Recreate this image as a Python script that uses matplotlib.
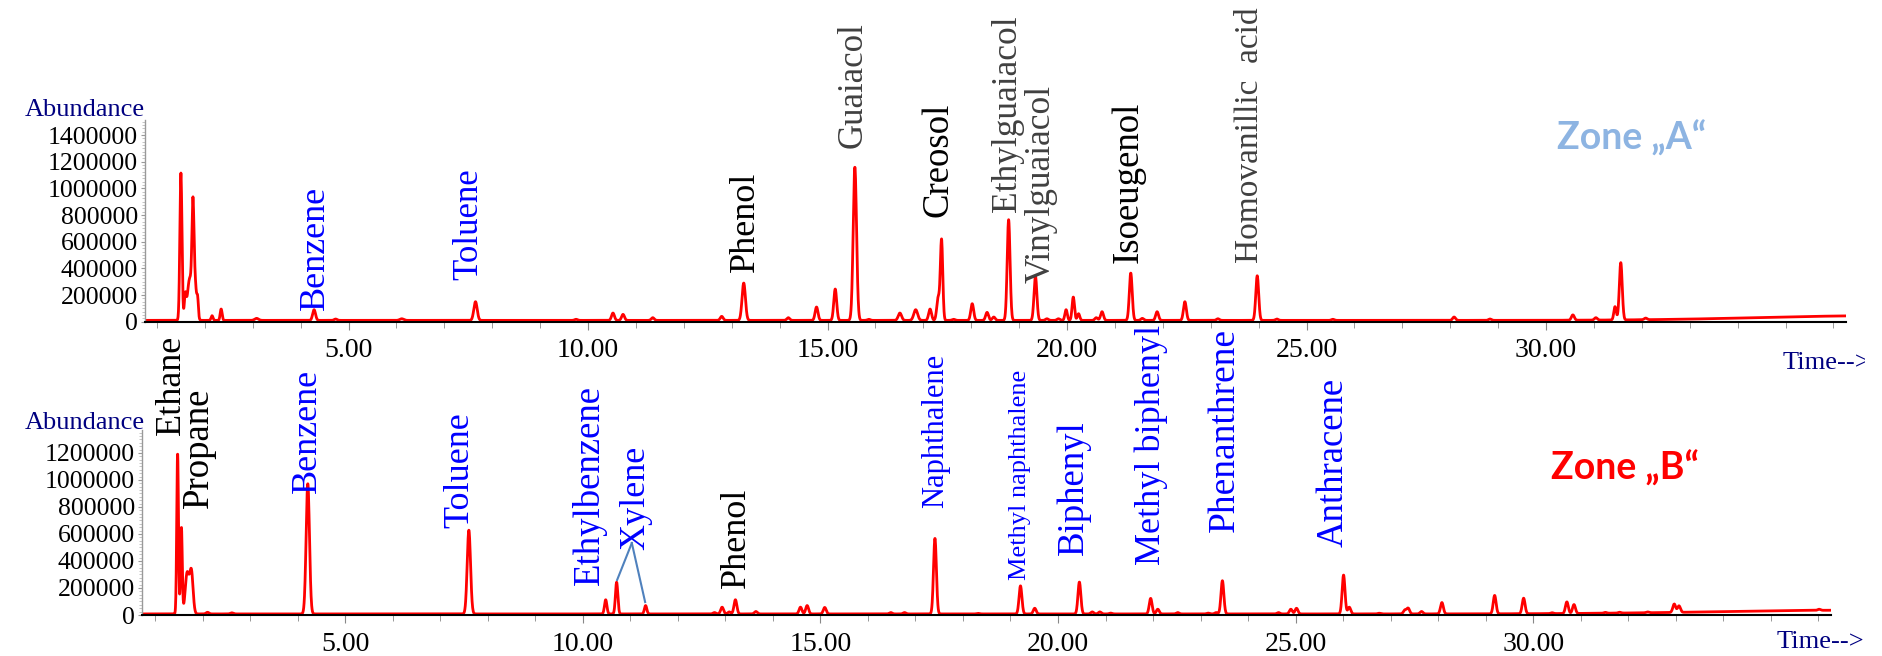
import numpy as np
import matplotlib
matplotlib.use("Agg")
import matplotlib.pyplot as plt
from matplotlib.ticker import MultipleLocator, FixedLocator, FormatStrFormatter
from matplotlib.transforms import Bbox, TransformedBbox

plt.rcParams['font.family'] = ['Liberation Serif', 'DejaVu Serif']

# ---- Zone A peak table (retention time [min], height, width sigma [min]) ----
a_rt = [1.50, 1.59, 1.68, 1.78, 1.75, 1.85, 2.15, 2.34, 3.08, 4.28, 4.73, 6.11,
        7.65, 9.75, 10.52, 10.73, 11.35, 12.79, 13.25, 14.18, 14.77, 15.16,
        15.57, 15.86, 16.51, 16.84, 17.14, 17.31, 17.38, 17.63, 18.02, 18.33,
        18.47, 18.78, 19.34, 19.58, 19.82, 19.98, 20.13, 20.24, 20.61, 20.73,
        21.33, 21.57, 21.88, 22.46, 23.15, 23.97, 24.38, 25.55, 28.08, 28.83,
        30.56, 31.04, 31.44, 31.56, 32.08, 37.0]
a_height = [1105000, 170000, 300000, 340000, 580000, 110000, 35000, 85000, 15000,
            80000, 10000, 12000, 140000, 8000, 55000, 45000, 20000, 30000,
            280000, 20000, 100000, 235000, 1150000, 8000, 55000, 80000, 85000,
            170000, 600000, 8000, 125000, 60000, 25000, 755000, 330000, 12000,
            12000, 80000, 175000, 50000, 20000, 65000, 355000, 15000, 65000,
            140000, 12000, 335000, 10000, 8000, 25000, 10000, 40000, 18000,
            100000, 430000, 12000, 35000]
a_width = [0.022, 0.02, 0.045, 0.04, 0.02, 0.015, 0.02, 0.02, 0.04, 0.03, 0.03, 0.04,
           0.035, 0.03, 0.03, 0.03, 0.03, 0.03, 0.035, 0.03, 0.03, 0.03,
           0.035, 0.03, 0.035, 0.04, 0.03, 0.03, 0.025, 0.03, 0.03, 0.03,
           0.03, 0.03, 0.03, 0.03, 0.03, 0.025, 0.025, 0.025, 0.03, 0.03,
           0.03, 0.03, 0.03, 0.03, 0.03, 0.03, 0.03, 0.03, 0.03, 0.03,
           0.03, 0.03, 0.025, 0.03, 0.03, 2.5]
a_base = 10000

# ---- Zone B peak table ----
b_rt = [1.47, 1.55, 1.67, 1.76, 2.10, 2.61, 4.21, 7.60, 10.48, 10.71, 11.32,
        12.77, 12.93, 13.08, 13.21, 13.64, 14.58, 14.72, 15.09, 16.48, 16.77,
        17.41, 18.32, 19.21, 19.51, 20.45, 20.72, 20.88, 21.11, 21.95, 22.10,
        22.52, 23.16, 23.33, 23.46, 24.64, 24.90, 25.02, 26.01, 26.13, 26.76,
        27.30, 27.37, 27.65, 28.08, 29.19, 29.80, 30.40, 30.71, 30.86, 31.52,
        31.82, 32.41, 32.97, 33.07, 36.02, 37.0]
b_height = [1190000, 640000, 300000, 310000, 12000, 8000, 965000, 620000, 105000,
            235000, 62000, 10000, 50000, 15000, 105000, 18000, 50000, 62000,
            48000, 10000, 10000, 560000, 4000, 208000, 42000, 236000, 15000,
            15000, 6000, 115000, 35000, 10000, 6000, 10000, 246000, 10000,
            35000, 42000, 288000, 50000, 5000, 28000, 42000, 18000, 84000,
            136000, 115000, 6000, 86000, 66000, 6000, 6000, 6000, 62000, 48000,
            8000, 28000]
b_width = [0.018, 0.018, 0.04, 0.035, 0.03, 0.03, 0.035, 0.035, 0.025, 0.025, 0.025,
           0.03, 0.03, 0.03, 0.03, 0.03, 0.03, 0.03, 0.03, 0.03, 0.03,
           0.03, 0.03, 0.03, 0.03, 0.03, 0.03, 0.03, 0.03, 0.03, 0.03,
           0.03, 0.03, 0.03, 0.03, 0.03, 0.03, 0.03, 0.03, 0.03, 0.03,
           0.03, 0.03, 0.03, 0.03, 0.03, 0.03, 0.03, 0.03, 0.03, 0.03,
           0.03, 0.03, 0.03, 0.03, 0.03, 3.0]
b_base = 8000

time_ticks = [5, 10, 15, 20, 25, 30]

# ---- compound annotations: name, time, abundance at text bottom, colour key ----
a_names = ['Benzene', 'Toluene', 'Phenol', 'Guaiacol', 'Creosol', 'Ethylguaiacol',
           'Vinylguaiacol', 'Isoeugenol', 'Homovanillic  acid']
a_name_t = [4.30, 7.52, 13.28, 15.53, 17.31, 18.75, 19.46, 21.27, 23.82]
a_name_y = [88000, 313000, 373000, 1303000, 785000, 823000, 290000, 440000, 440000]
a_name_c = ['blue', 'blue', 'black', 'gray', 'black', 'gray', 'gray', 'black', 'gray']
a_name_fs = [26, 25, 26, 25, 26.5, 25.5, 25.5, 26.5, 24]

b_names = ['Ethane', 'Propane', 'Benzene', 'Toluene', 'Ethylbenzene', 'Xylene',
           'Phenol', 'Naphthalene', 'Methyl naphthalene', 'Biphenyl',
           'Methyl biphenyl', 'Phenanthrene', 'Anthracene']
b_name_t = [1.35, 1.92, 4.21, 7.41, 10.13, 11.12, 13.24, 17.43, 19.20, 20.32,
            21.97, 23.50, 25.79]
b_name_y = [1333000, 793000, 904000, 644000, 222000, 481000, 200000, 793000,
            259000, 444000, 370000, 615000, 504000]
b_name_c = ['black', 'black', 'blue', 'blue', 'blue', 'blue', 'black', 'blue',
            'blue', 'blue', 'blue', 'blue', 'blue']
b_name_fs = [26, 26.5, 26, 26, 26.5, 26, 26, 22, 19, 26.5, 26, 27, 26.5]

# xylene pointer lines: from label to the two peaks
xyl_from = (11.03, 533000)
xyl_to_t = [10.72, 11.31]
xyl_to_y = [259000, 96000]

colors = {'blue': '#0000ff', 'black': '#000000', 'gray': '#404040'}
navy = '#000080'

fig = plt.figure(figsize=(18.83, 6.56), dpi=100)
ax_a = fig.add_axes([0.0770, 0.5096, 0.9033, 0.3075])
ax_b = fig.add_axes([0.0754, 0.0625, 0.8970, 0.2820])

t = np.arange(0.6, 36.4, 0.004)


def trace(rt, h, w, base):
    y = np.full_like(t, float(base))
    for r, hh, ww in zip(rt, h, w):
        y += hh * np.exp(-0.5 * ((t - r) / ww) ** 2)
    return y


def style_axis(ax, xlim, ylim, ymax_tick):
    ax.set_xlim(*xlim)
    ax.set_ylim(*ylim)
    for s in ['top', 'right']:
        ax.spines[s].set_visible(False)
    ax.spines['left'].set_color('#999999')
    ax.spines['left'].set_linewidth(1)
    ax.spines['bottom'].set_color('black')
    ax.spines['bottom'].set_linewidth(1.5)
    ax.xaxis.set_major_locator(FixedLocator(time_ticks))
    ax.xaxis.set_minor_locator(MultipleLocator(1))
    ax.xaxis.set_major_formatter(FormatStrFormatter('%.2f'))
    ax.set_yticks(np.arange(0, ymax_tick + 1, 200000))
    ax.yaxis.set_major_formatter(FormatStrFormatter('%d'))
    ax.yaxis.set_minor_locator(MultipleLocator(25000))
    ax.tick_params(axis='x', which='major', direction='out', length=6, pad=6,
                   labelsize=20, color='#888888')
    ax.tick_params(axis='x', which='minor', direction='out', length=4, color='#888888')
    ax.tick_params(axis='y', which='major', direction='out', length=3, pad=2,
                   labelsize=18.5, color='#999999')
    ax.tick_params(axis='y', which='minor', direction='out', length=2, color='#bbbbbb')


ax_a.plot(t, trace(a_rt, a_height, a_width, a_base), color='#ff0000', lw=2)
style_axis(ax_a, (0.75, 36.26), (0, 1513000), 1400000)

ax_b.plot(t, trace(b_rt, b_height, b_width, b_base), color='#ff0000', lw=2)
style_axis(ax_b, (0.72, 36.27), (0, 1370000), 1200000)

for name, x, y, c, fs in zip(a_names, a_name_t, a_name_y, a_name_c, a_name_fs):
    ax_a.text(x, y, name, rotation=90, ha='center', va='bottom', color=colors[c],
              fontsize=fs, clip_on=False)

# bottom labels are cut where the upper chromatogram begins
cut = TransformedBbox(Bbox([[0, 0], [1, 0.509]]), fig.transFigure)
for name, x, y, c, fs in zip(b_names, b_name_t, b_name_y, b_name_c, b_name_fs):
    fig.text(x, y, name, rotation=90, ha='center', va='bottom', color=colors[c],
             fontsize=fs, transform=ax_b.transData, clip_on=True, clip_box=cut)

for xt, yt in zip(xyl_to_t, xyl_to_y):
    ax_b.plot([xyl_from[0], xt], [xyl_from[1], yt], color='#4f81bd', lw=1.5,
              clip_on=False)

fig.text(0.077, 0.8323, 'Abundance', ha='right', va='center', fontsize=19, color=navy)
fig.text(0.077, 0.3552, 'Abundance', ha='right', va='center', fontsize=19, color=navy)
edge = TransformedBbox(Bbox([[0, 0], [0.9905, 1]]), fig.transFigure)
fig.text(0.9469, 0.4466, 'Time-->', ha='left', va='center', fontsize=19, color=navy,
         clip_on=True, clip_box=edge)
fig.text(0.9437, 0.0213, 'Time-->', ha='left', va='center', fontsize=19, color=navy)

fig.text(0.8667, 0.7896, 'Zone \u201eA\u201c', ha='center', va='center', fontsize=27,
         family='Lato', weight='bold', color='#8db4e2')
fig.text(0.8630, 0.2866, 'Zone \u201eB\u201c', ha='center', va='center', fontsize=27,
         family='Lato', weight='bold', color='#ff0000')

fig.savefig('out.png', dpi=100)
